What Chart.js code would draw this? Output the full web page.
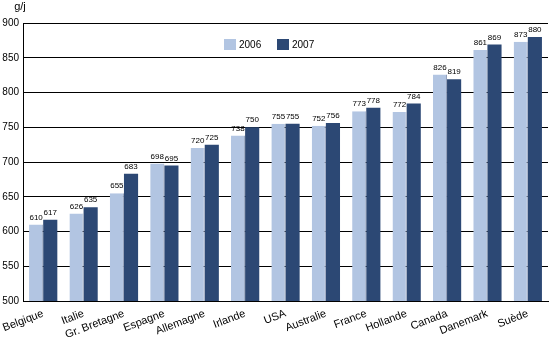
<!DOCTYPE html>
<html>
<head>
<meta charset="utf-8">
<script src="https://cdn.jsdelivr.net/npm/chart.js@4"></script>
<style>
  html, body { margin: 0; padding: 0; background: #fff; }
  #wrap { width: 550px; height: 340px; position: relative; }
</style>
</head>
<body>
<div id="wrap"><canvas id="c" width="550" height="340"></canvas></div>
<script>
// Consommation journalière (g/j) par pays, 2006 et 2007
const countries = ['Belgique', 'Italie', 'Gr. Bretagne', 'Espagne', 'Allemagne', 'Irlande', 'USA',
  'Australie', 'France', 'Hollande', 'Canada', 'Danemark', 'Suède'];
const values2006 = [610, 626, 655, 698, 720, 738, 755, 752, 773, 772, 826, 861, 873];
const values2007 = [617, 635, 683, 695, 725, 750, 755, 756, 778, 784, 819, 869, 880];
const yTicks = [500, 550, 600, 650, 700, 750, 800, 850, 900];
const unitLabel = 'g/j';
const seriesNames = ['2006', '2007'];

const FONT = '"Liberation Sans", Arial, Helvetica, sans-serif';
const LIGHT = '#b2c5e2';
const DARK = '#2c4874';

// Value labels above each bar
const valueLabels = {
  id: 'valueLabels',
  afterDatasetsDraw(chart) {
    const ctx = chart.ctx;
    ctx.save();
    ctx.font = '8px ' + FONT;
    ctx.fillStyle = '#000';
    ctx.textAlign = 'center';
    ctx.textBaseline = 'bottom';
    chart.data.datasets.forEach((ds, di) => {
      const meta = chart.getDatasetMeta(di);
      meta.data.forEach((bar, i) => {
        ctx.fillText(String(ds.data[i]), bar.x, bar.y - 3);
      });
    });
    ctx.restore();
  }
};

// Unit label and in-plot legend
const extras = {
  id: 'extras',
  afterDraw(chart) {
    const ctx = chart.ctx;
    ctx.save();
    ctx.font = '11px ' + FONT;
    ctx.fillStyle = '#000';
    ctx.textAlign = 'center';
    ctx.textBaseline = 'middle';
    ctx.fillText(unitLabel, 20, 7);

    const colors = [LIGHT, DARK];
    const xs = [224, 277];
    ctx.font = '10px ' + FONT;
    ctx.textAlign = 'left';
    seriesNames.forEach((name, i) => {
      ctx.fillStyle = colors[i];
      ctx.fillRect(xs[i], 39, 12, 11);
      ctx.fillStyle = '#000';
      ctx.fillText(name, xs[i] + 15, 45);
    });
    ctx.restore();
  }
};

new Chart(document.getElementById('c'), {
  type: 'bar',
  data: {
    labels: countries,
    datasets: [
      {
        label: seriesNames[0],
        data: values2006,
        backgroundColor: LIGHT,
        borderColor: '#8e9cb8',
        borderWidth: { top: 0, right: 1, bottom: 0, left: 0 },
        borderSkipped: false
      },
      {
        label: seriesNames[1],
        data: values2007,
        backgroundColor: DARK,
        borderWidth: 0
      }
    ]
  },
  options: {
    responsive: false,
    animation: false,
    devicePixelRatio: 1,
    layout: { padding: { top: 23, right: 2, left: 0, bottom: 0 } },
    plugins: {
      legend: { display: false },
      tooltip: { enabled: false }
    },
    datasets: {
      bar: { categoryPercentage: 0.7, barPercentage: 1.0 }
    },
    scales: {
      x: {
        grid: { display: false, drawTicks: false },
        border: { display: true, color: '#000', width: 1 },
        ticks: {
          font: { family: FONT, size: 11 },
          color: '#000',
          minRotation: 21,
          maxRotation: 21,
          autoSkip: false,
          padding: 6
        },
        afterFit(scale) {
          scale.height = 39;
          scale.paddingLeft = 0;
          scale.paddingRight = 0;
        }
      },
      y: {
        min: 500,
        max: 900,
        afterBuildTicks(scale) { scale.ticks = yTicks.map(v => ({ value: v })); },
        grid: { color: '#000', lineWidth: 1, drawTicks: false },
        border: { display: true, color: '#000', width: 1 },
        ticks: {
          font: { family: FONT, size: 10 },
          color: '#000',
          padding: 4
        },
        afterFit(scale) { scale.width = 23; }
      }
    }
  },
  plugins: [valueLabels, extras]
});
</script>
</body>
</html>
